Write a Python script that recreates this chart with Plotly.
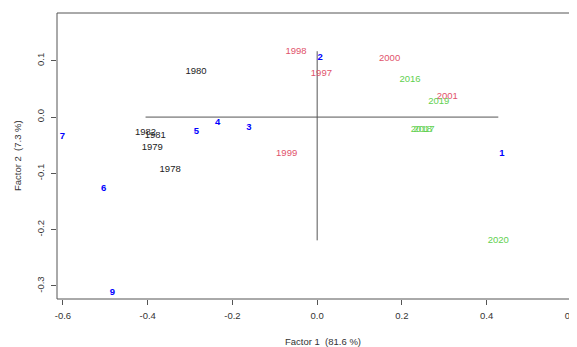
import plotly.graph_objects as go

# Year points (rows)
years_black = ["1978", "1979", "1980", "1981", "1982"]
x_black = [-0.347, -0.389, -0.286, -0.382, -0.405]
y_black = [-0.093, -0.054, 0.080, -0.033, -0.028]

years_red = ["1997", "1998", "1999", "2000", "2001"]
x_red = [0.010, -0.050, -0.072, 0.171, 0.307]
y_red = [0.078, 0.117, -0.065, 0.103, 0.037]

years_green = ["2016", "2017", "2018", "2019", "2020"]
x_green = [0.219, 0.252, 0.246, 0.287, 0.4275]
y_green = [0.067, -0.022, -0.022, 0.027, -0.219]

# Column points (blue numbers)
cols = ["1", "2", "3", "4", "5", "6", "7", "9"]
x_cols = [0.436, 0.007, -0.161, -0.235, -0.285, -0.504, -0.601, -0.483]
y_cols = [-0.065, 0.106, -0.018, -0.010, -0.025, -0.1265, -0.035, -0.3115]

x_ticks = [-0.6, -0.4, -0.2, 0.0, 0.2, 0.4, 0.6]
y_ticks = [-0.3, -0.2, -0.1, 0.0, 0.1]

FONT = "Liberation Sans, Arial, sans-serif"
FS = 9.5

fig = go.Figure()

all_x = x_black + x_red + x_green
all_y = y_black + y_red + y_green

# reference lines through origin spanning the year points
fig.add_trace(go.Scatter(x=[min(all_x), max(all_x)], y=[0, 0], mode="lines",
                         line=dict(color="#555555", width=1), hoverinfo="skip"))
fig.add_trace(go.Scatter(x=[0, 0], y=[min(all_y), max(all_y)], mode="lines",
                         line=dict(color="#555555", width=1), hoverinfo="skip"))

for xs, ys, labels, color in [
    (x_black, y_black, years_black, "#222222"),
    (x_red, y_red, years_red, "#DF536B"),
    (x_green, y_green, years_green, "#61D04F"),
]:
    fig.add_trace(go.Scatter(x=xs, y=ys, text=labels, mode="text",
                             textposition="middle center",
                             textfont=dict(family=FONT, size=FS, color=color)))

fig.add_trace(go.Scatter(x=x_cols, y=y_cols, text=cols, mode="text",
                         textposition="middle center",
                         textfont=dict(family=FONT, size=FS, color="#0000FF", weight="bold")))

fig.update_layout(
    width=569, height=339,
    margin=dict(l=49, r=0, t=5, b=48, autoexpand=False),
    plot_bgcolor="white", paper_bgcolor="white",
    showlegend=False,
    font=dict(family=FONT, size=FS, color="#333333"),
    shapes=[
        dict(type="line", xref="paper", yref="paper", x0=0, x1=0, y0=0, y1=1,
             line=dict(color="#555555", width=1)),
        dict(type="line", xref="paper", yref="paper", x0=0, x1=1, y0=1, y1=1,
             line=dict(color="#555555", width=1)),
        dict(type="line", xref="paper", yref="paper", x0=0, x1=1, y0=0, y1=0,
             line=dict(color="#555555", width=1)),
    ],
    annotations=[
        dict(text="Factor 1  (81.6 %)", xref="paper", yref="paper",
             x=0.5115, y=-0.148, yanchor="middle", xanchor="center", showarrow=False,
             font=dict(family=FONT, size=FS, color="#333333")),
        dict(text="Factor 2  (7.3 %)", xref="paper", yref="paper",
             x=-0.0769, y=0.5, textangle=-90, xanchor="center", yanchor="middle",
             showarrow=False, font=dict(family=FONT, size=FS, color="#333333")),
    ],
)

fig.update_xaxes(range=[-0.614, 0.6132], tickvals=x_ticks,
                 ticktext=[f"{v:.1f}" for v in x_ticks],
                 ticks="outside", ticklen=5, tickcolor="#555555", ticklabelstandoff=3,
                 ticklabeloverflow="allow",
                 showgrid=False, zeroline=False, showline=False, automargin=False)
fig.update_yaxes(range=[-0.3232, 0.1849], tickvals=y_ticks,
                 ticktext=[f"{v:.1f}" for v in y_ticks],
                 ticks="outside", ticklen=5, tickcolor="#555555", tickangle=-90,
                 ticklabelstandoff=3, ticklabeloverflow="allow",
                 showgrid=False, zeroline=False, showline=False, automargin=False)

fig.write_html("out.html")
